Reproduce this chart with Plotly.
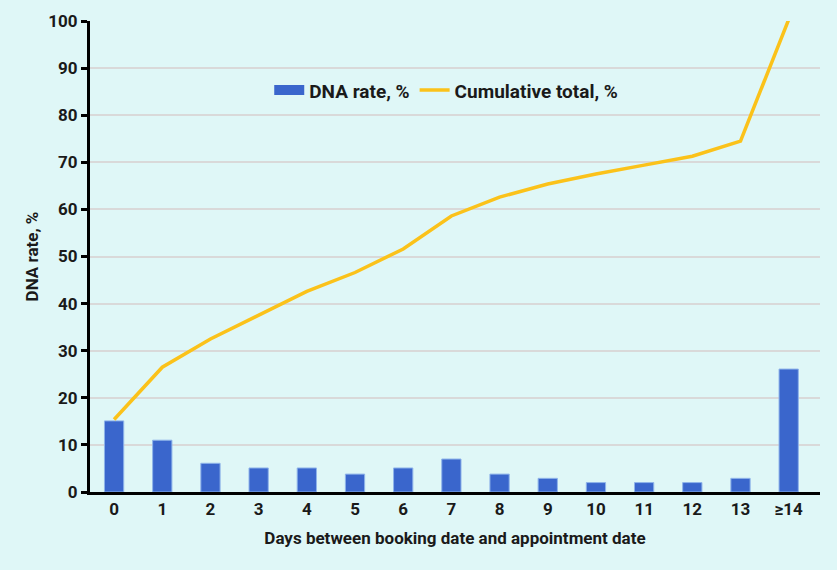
import plotly.graph_objects as go

days = ['0', '1', '2', '3', '4', '5', '6', '7', '8', '9', '10', '11', '12', '13', '≥14']
dna_rate = [15.1, 11.0, 6.1, 5.1, 5.1, 3.8, 5.1, 7.0, 3.8, 2.9, 2.0, 2.0, 2.0, 2.9, 26.1]
cumulative = [15.4, 26.5, 32.5, 37.5, 42.6, 46.6, 51.6, 58.6, 62.6, 65.4, 67.5, 69.4, 71.3, 74.5, 100.3]

BG = '#dff7f7'
INK = '#1a1a1a'
BLUE = '#3a66cc'
YELLOW = '#fbc21a'

fig = go.Figure()

fig.add_trace(go.Bar(
    x=days, y=dna_rate,
    name='DNA rate, %',
    marker=dict(color=BLUE, line=dict(color='#8fb4ea', width=1)),
    showlegend=False,
))

# legend stand-in so the bar key shows as a wide block
fig.add_trace(go.Scatter(
    x=[None], y=[None],
    name='DNA rate, %',
    mode='lines',
    line=dict(color=BLUE, width=12),
))

fig.add_trace(go.Scatter(
    x=days, y=cumulative,
    name='Cumulative total, %',
    mode='lines',
    line=dict(color=YELLOW, width=3.5),
    cliponaxis=False,
))

fig.update_layout(
    width=837, height=570,
    paper_bgcolor=BG, plot_bgcolor=BG,
    margin=dict(l=90, r=17, t=21, b=78),
    bargap=0.6,
    font=dict(family='Roboto', size=18, color=INK),
    legend=dict(
        orientation='h',
        x=0.488, xanchor='center',
        y=0.853, yanchor='middle',
        bgcolor='rgba(0,0,0,0)',
        font=dict(size=19, weight='bold'),
        traceorder='normal',
    ),
    xaxis=dict(
        title=dict(text='Days between booking date and appointment date',
                   font=dict(size=17, weight='bold'), standoff=14),
        range=[-0.5, 14.65],
        tickfont=dict(size=17, weight='bold'),
        showline=True, linecolor='black', linewidth=3,
        ticks='', showgrid=False,
    ),
    yaxis=dict(
        title=dict(text='DNA rate, %', font=dict(size=17, weight='bold'), standoff=6),
        range=[0, 100],
        dtick=10,
        tickfont=dict(size=17, weight='bold'),
        showline=True, linecolor='black', linewidth=3,
        ticks='outside', ticklen=6, tickwidth=3, tickcolor='black',
        gridcolor='#d9d9d9', gridwidth=1.5,
        zeroline=False,
    ),
)

# drop the page's default body margin so the figure sits flush in the window
fig.write_html("out.html", config={'displayModeBar': False},
               post_script="document.body.style.margin='0';")
